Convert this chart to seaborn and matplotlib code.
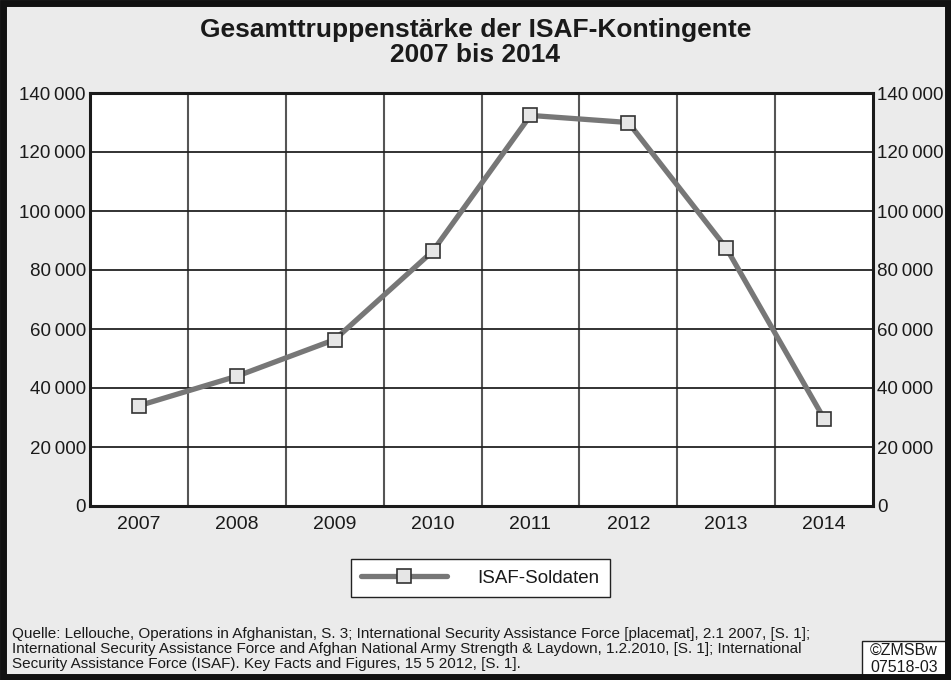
import matplotlib
matplotlib.use("Agg")
import matplotlib.pyplot as plt
import seaborn as sns
import pandas as pd
from matplotlib.patches import Rectangle
from matplotlib.ticker import FuncFormatter, FixedLocator
from matplotlib.lines import Line2D

years = ["2007", "2008", "2009", "2010", "2011", "2012", "2013", "2014"]
soldiers = [34000, 44000, 56400, 86300, 132400, 130000, 87500, 29600]
series_name = "ISAF-Soldaten"
title_lines = ["Gesamttruppenstärke der ISAF-Kontingente", "2007 bis 2014"]
source_lines = [
    "Quelle: Lellouche, Operations in Afghanistan, S. 3; International Security Assistance Force [placemat], 2.1 2007, [S. 1];",
    "International Security Assistance Force and Afghan National Army Strength & Laydown, 1.2.2010, [S. 1]; International",
    "Security Assistance Force (ISAF). Key Facts and Figures, 15 5 2012, [S. 1].",
]
credit_lines = ["©ZMSBw", "07518-03"]
yticks = [0, 20000, 40000, 60000, 80000, 100000, 120000, 140000]

df = pd.DataFrame({"Jahr": years, "Soldaten": soldiers})

sns.set_theme(style="white")
plt.rcParams['font.family'] = ['Liberation Sans', 'DejaVu Sans']
narrow = ['Liberation Sans Narrow', 'Liberation Sans', 'DejaVu Sans']

W, H = 951, 680
fig = plt.figure(figsize=(W / 100, H / 100), dpi=100, facecolor="#ebebeb")
ax = fig.add_axes([90 / W, 1 - 506 / H, (873 - 90) / W, (506 - 93) / H])
ax.set_facecolor("white")

sns.lineplot(data=df, x="Jahr", y="Soldaten", ax=ax, sort=False, color="#777777",
             linewidth=3.8, marker="s", markersize=9.5, markerfacecolor="#e6e6e6",
             markeredgecolor="#333333", markeredgewidth=1.2, zorder=5)

ax.set_xlim(-0.5, len(years) - 0.5)
ax.set_ylim(0, 140000)
ax.set_yticks(yticks)
ax.yaxis.set_major_formatter(FuncFormatter(lambda v, p: f"{int(v):,}".replace(",", "\u2009")))
ax.set_xlabel("")
ax.set_ylabel("")

ax.xaxis.set_minor_locator(FixedLocator([i + 0.5 for i in range(len(years) - 1)]))
ax.grid(False)
ax.grid(which="minor", axis="x", color="#555555", linewidth=1.5)
ax.grid(which="major", axis="y", color="#222222", linewidth=1.3)
ax.tick_params(axis="x", which="major", length=0, labelsize=14, pad=7, labelcolor="#1a1a1a")
ax.tick_params(axis="x", which="minor", length=16, width=1.5, color="#555555", direction="out")
ax.tick_params(axis="y", length=0, labelsize=13.5, labelleft=True, labelright=True, pad=3,
               labelcolor="#1a1a1a")
for s in ax.spines.values():
    s.set_visible(True)
    s.set_color("#1a1a1a")
    s.set_linewidth(2.2)

for ypix, line in zip([30, 55], title_lines):
    fig.text(0.5, 1 - ypix / H, line, ha="center", va="center", fontsize=19, fontweight="bold",
             family=narrow, color="#1a1a1a")

handle = Line2D([], [], color="#777777", linewidth=3.8, marker="s", markersize=9.5,
                markerfacecolor="#e6e6e6", markeredgecolor="#333333", markeredgewidth=1.2)
leg = fig.legend([handle], [series_name], loc="center", bbox_to_anchor=(480 / W, 1 - 578 / H),
                 frameon=True, fancybox=False, fontsize=13.5, handlelength=4.6,
                 borderpad=0.55, handletextpad=1.6, borderaxespad=0)
leg.get_frame().set_edgecolor("#222222")
leg.get_frame().set_linewidth(1.0)
leg.get_frame().set_facecolor("white")
leg.get_frame().set_alpha(1)
for t in leg.get_texts():
    t.set_color("#1a1a1a")

for ypix, line in zip([634, 649, 664], source_lines):
    fig.text(12 / W, 1 - ypix / H, line, ha="left", va="center", fontsize=11, family=narrow,
             color="#1a1a1a")

fig.patches.append(Rectangle((862 / W, 1 - 676 / H), 84 / W, 35 / H, transform=fig.transFigure,
                             facecolor="white", edgecolor="#222222", linewidth=1, zorder=3))
for ypix, line in zip([650, 667], credit_lines):
    fig.text(904 / W, 1 - ypix / H, line, ha="center", va="center", fontsize=11.5, family=narrow,
             color="#1a1a1a", zorder=4)

fig.patches.append(Rectangle((3 / W, 3 / H), (W - 6) / W, (H - 6) / H, transform=fig.transFigure,
                             fill=False, edgecolor="#111111", linewidth=5, zorder=10))

fig.savefig("out.png", dpi=100, facecolor=fig.get_facecolor())
